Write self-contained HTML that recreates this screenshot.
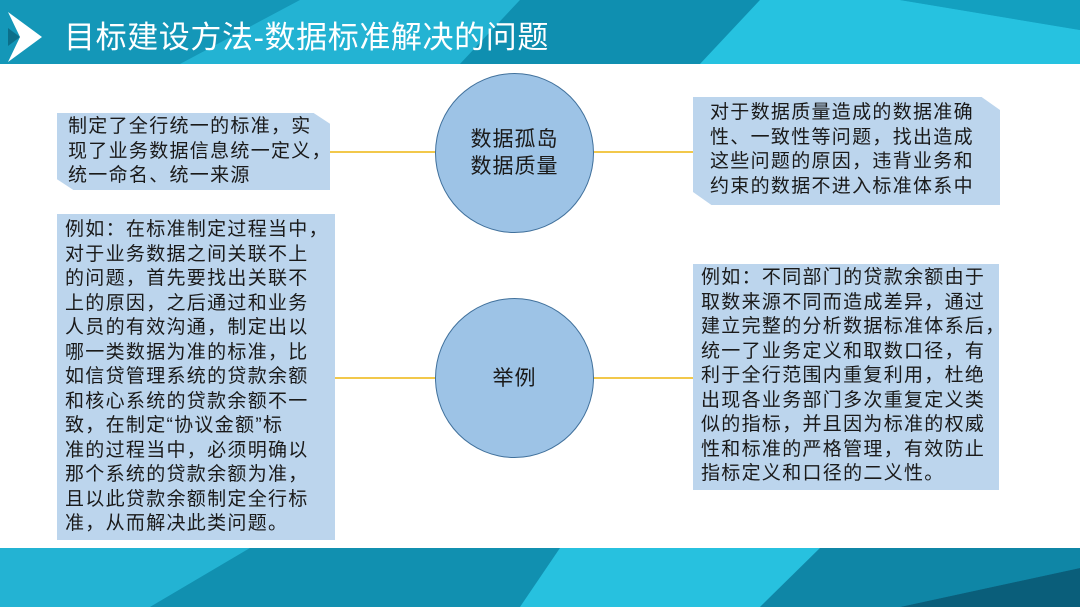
<!DOCTYPE html>
<html><head><meta charset="utf-8"><style>
*{margin:0;padding:0;box-sizing:border-box}
body{width:1080px;height:607px;overflow:hidden;background:#fff;position:relative;font-family:"Liberation Sans","Noto Sans CJK SC",sans-serif}
.t{position:absolute;font-size:19px;line-height:24.5px;color:#1a1a1a;white-space:nowrap;letter-spacing:1.3px}
.box{position:absolute;background:#bcd5ed}
.ln{position:absolute;height:2px;background:#f2c84b}
.c{position:absolute;border-radius:50%;background:#9dc3e6;border:1.5px solid #41719c;display:flex;align-items:center;justify-content:center;text-align:center;font-size:21px;line-height:27px;color:#1a1a1a;letter-spacing:1px}
</style></head><body>
<svg style="position:absolute;left:0;top:0" width="1080" height="64">
<rect width="1080" height="64" fill="#1aa3c4"/>
<polygon points="0,0 300,0 180,64 0,64" fill="#1497b8"/>
<polygon points="300,0 520,0 460,64 180,64" fill="#23b3d3"/>
<polygon points="520,0 760,0 700,64 460,64" fill="#0f8fb0"/>
<polygon points="760,0 900,0 1080,30 1080,64 700,64" fill="#26c2e0"/>
<polygon points="900,0 1080,0 1080,30" fill="#13a0c0"/>
<polygon points="8,12 42,37 8,62 20,37" fill="#fff"/>
<polygon points="8,28 20,37 8,46" fill="#0b6f8a"/>
<text x="64" y="48" font-family="Liberation Sans,Noto Sans CJK SC,sans-serif" font-size="31" letter-spacing="0.6" fill="#fff">目标建设方法-数据标准解决的问题</text>
</svg>
<svg style="position:absolute;left:0;top:548" width="1080" height="59">
<rect width="1080" height="59" fill="#1aa3c4"/>
<polygon points="0,0 250,0 150,59 0,59" fill="#23b3d3"/>
<polygon points="250,0 560,0 520,59 150,59" fill="#1190b0"/>
<polygon points="560,0 820,0 760,59 520,59" fill="#27c1df"/>
<polygon points="820,0 1080,0 1080,20 900,59 760,59" fill="#0f86a6"/>
<polygon points="1080,20 1080,59 900,59" fill="#0a5e7a"/>
</svg>

<div class="ln" style="left:330px;top:151px;width:106px"></div>
<div class="ln" style="left:593px;top:151px;width:100px"></div>
<div class="ln" style="left:335px;top:377px;width:101px"></div>
<div class="ln" style="left:593px;top:377px;width:100px"></div>

<div class="box" style="left:57px;top:113px;width:273px;height:77px;clip-path:polygon(0 0,94% 0,100% 14%,100% 100%,6% 100%,0 86%)"></div>
<div class="t" style="left:68px;top:115px">制定了全行统一的标准，实<br>现了业务数据信息统一定义，<br>统一命名、统一来源</div>

<div class="box" style="left:57px;top:214px;width:278px;height:326px"></div>
<div class="t" style="left:65px;top:218px">例如：在标准制定过程当中，<br>对于业务数据之间关联不上<br>的问题，首先要找出关联不<br>上的原因，之后通过和业务<br>人员的有效沟通，制定出以<br>哪一类数据为准的标准，比<br>如信贷管理系统的贷款余额<br>和核心系统的贷款余额不一<br>致，在制定“协议金额”标<br>准的过程当中，必须明确以<br>那个系统的贷款余额为准，<br>且以此贷款余额制定全行标<br>准，从而解决此类问题。</div>

<div class="box" style="left:693px;top:97px;width:307px;height:108px;clip-path:polygon(0 0,94% 0,100% 12%,100% 100%,6% 100%,0 88%)"></div>
<div class="t" style="left:710px;top:101px">对于数据质量造成的数据准确<br>性、一致性等问题，找出造成<br>这些问题的原因，违背业务和<br>约束的数据不进入标准体系中</div>

<div class="box" style="left:693px;top:264px;width:306px;height:226px"></div>
<div class="t" style="left:701px;top:266px">例如：不同部门的贷款余额由于<br>取数来源不同而造成差异，通过<br>建立完整的分析数据标准体系后，<br>统一了业务定义和取数口径，有<br>利于全行范围内重复利用，杜绝<br>出现各业务部门多次重复定义类<br>似的指标，并且因为标准的权威<br>性和标准的严格管理，有效防止<br>指标定义和口径的二义性。</div>

<div class="c" style="left:435px;top:73px;width:159px;height:160px">数据孤岛<br>数据质量</div>
<div class="c" style="left:435px;top:298px;width:159px;height:160px">举例</div>
</body></html>
